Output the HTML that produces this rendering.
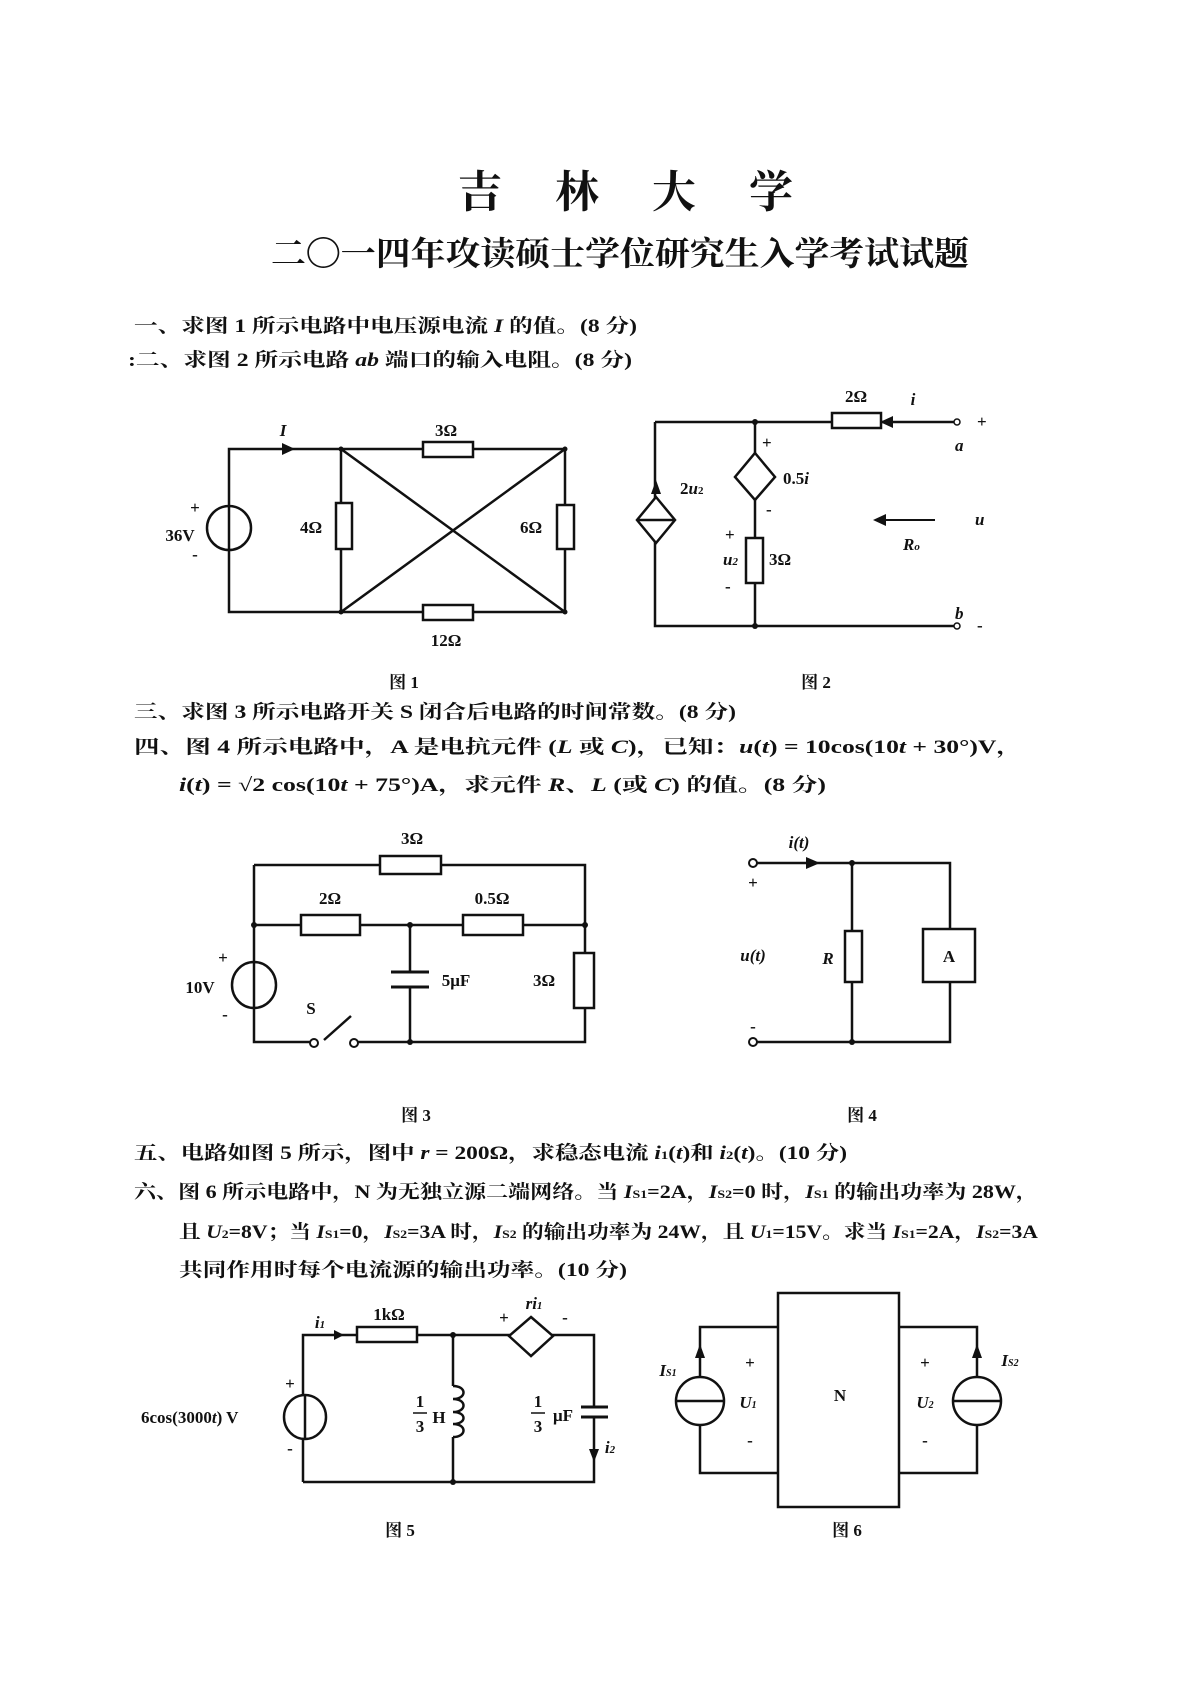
<!DOCTYPE html>
<html><head><meta charset="utf-8"><style>
html,body{margin:0;padding:0;background:#fff;}
svg{display:block;}
text{font-family:"Liberation Serif","Noto Serif CJK SC",serif;font-weight:bold;fill:#111;}
.t{font-size:19px;}
.l{font-size:17px;}
.it{font-style:italic;}
</style></head><body>
<svg width="1190" height="1683" viewBox="0 0 1190 1683" xmlns="http://www.w3.org/2000/svg">
<g stroke="#111" stroke-width="2.5" fill="none">
<!-- Fig1 -->
<path d="M229,449 H565 V612 H229 Z M341,449 V612 M341,449 L565,612 M565,449 L341,612"/>
<rect x="423" y="442" width="50" height="15" fill="#fff"/>
<rect x="423" y="605" width="50" height="15" fill="#fff"/>
<rect x="336" y="503" width="16" height="46" fill="#fff"/>
<rect x="557" y="505" width="17" height="44" fill="#fff"/>
<ellipse cx="229" cy="528" rx="22" ry="22" fill="#fff"/>
<line x1="229" y1="506" x2="229" y2="550"/>
<!-- Fig2 -->
<path d="M655,422 H955 M755,422 V626 M655,422 V626 H955"/>
<rect x="832" y="413" width="49" height="15" fill="#fff"/>
<polygon points="656,497 675,520 656,543 637,520" fill="#fff"/>
<line x1="637" y1="520" x2="675" y2="520"/>
<polygon points="755,453 775,477 755,500 735,477" fill="#fff"/>
<rect x="746" y="538" width="17" height="45" fill="#fff"/>
<circle cx="957" cy="422" r="3" fill="#fff" stroke-width="1.5"/>
<circle cx="957" cy="626" r="3" fill="#fff" stroke-width="1.5"/>
<line x1="935" y1="520" x2="878" y2="520" stroke-width="2"/>
<!-- Fig3 -->
<path d="M254,865 H585 V1042 H356 M311,1042 H254 V865 M254,925 H585 M410,925 V972 M410,987 V1042"/>
<rect x="380" y="856" width="61" height="18" fill="#fff"/>
<rect x="301" y="915" width="59" height="20" fill="#fff"/>
<rect x="463" y="915" width="60" height="20" fill="#fff"/>
<rect x="574" y="953" width="20" height="55" fill="#fff"/>
<line x1="391" y1="972" x2="429" y2="972" stroke-width="3"/>
<line x1="391" y1="987" x2="429" y2="987" stroke-width="3"/>
<ellipse cx="254" cy="985" rx="22" ry="23" fill="#fff"/>
<line x1="254" y1="962" x2="254" y2="1008"/>
<circle cx="314" cy="1043" r="4" fill="#fff" stroke-width="2"/>
<circle cx="354" cy="1043" r="4" fill="#fff" stroke-width="2"/>
<line x1="324" y1="1040" x2="351" y2="1016"/>
<!-- Fig4 -->
<path d="M756,863 H950 V929 M950,982 V1042 H756 M852,863 V931 M852,982 V1042"/>
<rect x="845" y="931" width="17" height="51" fill="#fff"/>
<rect x="923" y="929" width="52" height="53" fill="#fff"/>
<circle cx="753" cy="863" r="4" fill="#fff" stroke-width="2"/>
<circle cx="753" cy="1042" r="4" fill="#fff" stroke-width="2"/>
<!-- Fig5 -->
<path d="M303,1482 V1335 H594 V1407 M594,1417 V1482 H303 M453,1335 V1386 M453,1437 V1482"/>
<rect x="357" y="1327" width="60" height="15" fill="#fff"/>
<polygon points="531,1317 553,1336 531,1356 509,1336" fill="#fff"/>
<ellipse cx="305" cy="1417" rx="21" ry="22" fill="#fff"/>
<line x1="305" y1="1395" x2="305" y2="1439"/>
<path d="M453,1386 c14,0 14,13 0,13 c14,0 14,13 0,13 c14,0 14,12 0,12 c14,0 14,13 0,13" fill="#fff"/>
<line x1="581" y1="1407" x2="608" y2="1407" stroke-width="3"/>
<line x1="581" y1="1417" x2="608" y2="1417" stroke-width="3"/>
<!-- Fig6 -->
<rect x="778" y="1293" width="121" height="214" fill="#fff"/>
<path d="M778,1327 H700 V1473 H778 M899,1327 H977 V1473 H899"/>
<circle cx="700" cy="1401" r="24" fill="#fff"/>
<line x1="676" y1="1401" x2="724" y2="1401"/>
<circle cx="977" cy="1401" r="24" fill="#fff"/>
<line x1="953" y1="1401" x2="1001" y2="1401"/>
</g>
<g fill="#111">
<polygon points="295,449 282,443 282,455"/>
<polygon points="880,422 893,416 893,428"/>
<polygon points="656,480 651,494 661,494"/>
<polygon points="873,520 886,514 886,526"/>
<polygon points="820,863 806,857 806,869"/>
<polygon points="344,1335 334,1330 334,1340"/>
<circle cx="453" cy="1335" r="3"/><circle cx="453" cy="1482" r="3"/>
<polygon points="594,1462 589,1449 599,1449"/>
<polygon points="700,1344 695,1358 705,1358"/>
<polygon points="977,1344 972,1358 982,1358"/>
<circle cx="410" cy="925" r="3"/><circle cx="410" cy="1042" r="3"/><circle cx="254" cy="925" r="3"/><circle cx="585" cy="925" r="3"/>
<circle cx="852" cy="863" r="3"/><circle cx="852" cy="1042" r="3"/>
<circle cx="755" cy="422" r="3"/><circle cx="755" cy="626" r="3"/>
<circle cx="341" cy="449" r="2.5"/><circle cx="565" cy="449" r="2.5"/><circle cx="341" cy="612" r="2.5"/><circle cx="565" cy="612" r="2.5"/>
</g>

<!-- Titles -->
<text x="458" y="207" font-size="44" textLength="335" lengthAdjust="spacing">吉林大学</text>
<text x="271" y="265" font-size="33" textLength="698" lengthAdjust="spacingAndGlyphs">二〇一四年攻读硕士学位研究生入学考试试题</text>

<text class="t" x="134" y="332" textLength="503" lengthAdjust="spacingAndGlyphs">一、求图 1 所示电路中电压源电流 <tspan class="it">I</tspan> 的值。(8 分)</text>
<text class="t" x="128" y="366" textLength="504" lengthAdjust="spacingAndGlyphs">:二、求图 2 所示电路 <tspan class="it">ab</tspan> 端口的输入电阻。(8 分)</text>

<!-- fig1 labels -->
<text class="l" x="446" y="436" text-anchor="middle">3Ω</text>
<text class="l it" x="283" y="436" text-anchor="middle">I</text>
<text class="l" x="195" y="513" text-anchor="middle">+</text>
<text class="l" x="180" y="541" text-anchor="middle">36V</text>
<text class="l" x="195" y="560" text-anchor="middle">-</text>
<text class="l" x="311" y="533" text-anchor="middle">4Ω</text>
<text class="l" x="531" y="533" text-anchor="middle">6Ω</text>
<text class="l" x="446" y="646" text-anchor="middle">12Ω</text>
<text class="l" x="404" y="688" text-anchor="middle">图 1</text>
<!-- fig2 labels -->
<text class="l" x="856" y="402" text-anchor="middle">2Ω</text>
<text class="l it" x="913" y="405" text-anchor="middle">i</text>
<text class="l" x="977" y="427">+</text>
<text class="l it" x="955" y="451">a</text>
<text class="l it" x="975" y="525">u</text>
<text class="l it" x="955" y="619">b</text>
<text class="l" x="977" y="631">-</text>
<text class="l" x="680" y="494">2<tspan class="it">u</tspan><tspan font-size="11">2</tspan></text>
<text class="l" x="762" y="448">+</text>
<text class="l" x="766" y="515">-</text>
<text class="l" x="783" y="484">0.5<tspan class="it">i</tspan></text>
<text class="l" x="725" y="540">+</text>
<text class="l it" x="723" y="565">u<tspan font-size="11">2</tspan></text>
<text class="l" x="725" y="592">-</text>
<text class="l" x="769" y="565">3Ω</text>
<text class="l it" x="903" y="550">R<tspan font-size="11">o</tspan></text>
<text class="l" x="816" y="688" text-anchor="middle">图 2</text>

<text class="t" x="134" y="718" textLength="602" lengthAdjust="spacingAndGlyphs">三、求图 3 所示电路开关 S 闭合后电路的时间常数。(8 分)</text>
<text class="t" x="134" y="753" textLength="888" lengthAdjust="spacingAndGlyphs">四、图 4 所示电路中，A 是电抗元件 (<tspan class="it">L</tspan> 或 <tspan class="it">C</tspan>)，已知：<tspan class="it">u</tspan>(<tspan class="it">t</tspan>) = 10cos(10<tspan class="it">t</tspan> + 30°)V，</text>
<text class="t" x="179" y="791" textLength="647" lengthAdjust="spacingAndGlyphs"><tspan class="it">i</tspan>(<tspan class="it">t</tspan>) = √2 cos(10<tspan class="it">t</tspan> + 75°)A，求元件 <tspan class="it">R</tspan>、<tspan class="it">L</tspan> (或 <tspan class="it">C</tspan>) 的值。(8 分)</text>

<!-- fig3 labels -->
<text class="l" x="412" y="844" text-anchor="middle">3Ω</text>
<text class="l" x="330" y="904" text-anchor="middle">2Ω</text>
<text class="l" x="492" y="904" text-anchor="middle">0.5Ω</text>
<text class="l" x="223" y="963" text-anchor="middle">+</text>
<text class="l" x="200" y="993" text-anchor="middle">10V</text>
<text class="l" x="225" y="1020" text-anchor="middle">-</text>
<text class="l" x="456" y="986" text-anchor="middle">5μF</text>
<text class="l" x="544" y="986" text-anchor="middle">3Ω</text>
<text class="l" x="311" y="1014" text-anchor="middle">S</text>
<!-- fig4 labels -->
<text class="l it" x="799" y="848" text-anchor="middle">i(t)</text>
<text class="l" x="753" y="888" text-anchor="middle">+</text>
<text class="l it" x="753" y="961" text-anchor="middle">u(t)</text>
<text class="l" x="753" y="1032" text-anchor="middle">-</text>
<text class="l it" x="828" y="964" text-anchor="middle">R</text>
<text class="l" x="949" y="962" text-anchor="middle">A</text>
<text class="l" x="416" y="1121" text-anchor="middle">图 3</text>
<text class="l" x="862" y="1121" text-anchor="middle">图 4</text>

<text class="t" x="134" y="1159" textLength="713" lengthAdjust="spacingAndGlyphs">五、电路如图 5 所示，图中 <tspan class="it">r</tspan> = 200Ω，求稳态电流 <tspan class="it">i</tspan><tspan font-size="12">1</tspan>(<tspan class="it">t</tspan>)和 <tspan class="it">i</tspan><tspan font-size="12">2</tspan>(<tspan class="it">t</tspan>)。(10 分)</text>
<text class="t" x="134" y="1198" textLength="904" lengthAdjust="spacingAndGlyphs">六、图 6 所示电路中，N 为无独立源二端网络。当 <tspan class="it">I</tspan><tspan font-size="12">S1</tspan>=2A，<tspan class="it">I</tspan><tspan font-size="12">S2</tspan>=0 时，<tspan class="it">I</tspan><tspan font-size="12">S1</tspan> 的输出功率为 28W，</text>
<text class="t" x="179" y="1238" textLength="859" lengthAdjust="spacingAndGlyphs">且 <tspan class="it">U</tspan><tspan font-size="12">2</tspan>=8V；当 <tspan class="it">I</tspan><tspan font-size="12">S1</tspan>=0，<tspan class="it">I</tspan><tspan font-size="12">S2</tspan>=3A 时，<tspan class="it">I</tspan><tspan font-size="12">S2</tspan> 的输出功率为 24W，且 <tspan class="it">U</tspan><tspan font-size="12">1</tspan>=15V。求当 <tspan class="it">I</tspan><tspan font-size="12">S1</tspan>=2A，<tspan class="it">I</tspan><tspan font-size="12">S2</tspan>=3A</text>
<text class="t" x="179" y="1276" textLength="448" lengthAdjust="spacingAndGlyphs">共同作用时每个电流源的输出功率。(10 分)</text>

<!-- fig5 labels -->
<text class="l" x="389" y="1320" text-anchor="middle">1kΩ</text>
<text class="l it" x="320" y="1328" text-anchor="middle">i<tspan font-size="11">1</tspan></text>
<text class="l" x="504" y="1323" text-anchor="middle">+</text>
<text class="l it" x="534" y="1309" text-anchor="middle">ri<tspan font-size="11">1</tspan></text>
<text class="l" x="565" y="1323" text-anchor="middle">-</text>
<text class="l" x="290" y="1389" text-anchor="middle">+</text>
<text class="l" x="290" y="1454" text-anchor="middle">-</text>
<text class="l" x="141" y="1423" font-weight="normal">6cos(3000<tspan class="it">t</tspan>) V</text>
<text class="l" x="420" y="1407" text-anchor="middle">1</text>
<line x1="413" y1="1413" x2="427" y2="1413" stroke="#111" stroke-width="1.5"/>
<text class="l" x="420" y="1432" text-anchor="middle">3</text>
<text class="l" x="439" y="1423" text-anchor="middle">H</text>
<text class="l" x="538" y="1407" text-anchor="middle">1</text>
<line x1="531" y1="1413" x2="545" y2="1413" stroke="#111" stroke-width="1.5"/>
<text class="l" x="538" y="1432" text-anchor="middle">3</text>
<text class="l" x="563" y="1421" text-anchor="middle">μF</text>
<text class="l it" x="610" y="1453" text-anchor="middle">i<tspan font-size="11">2</tspan></text>
<text class="l" x="400" y="1536" text-anchor="middle">图 5</text>
<!-- fig6 labels -->
<text class="l it" x="668" y="1376" text-anchor="middle">I<tspan font-size="10">S1</tspan></text>
<text class="l" x="750" y="1368" text-anchor="middle">+</text>
<text class="l it" x="748" y="1408" text-anchor="middle">U<tspan font-size="10">1</tspan></text>
<text class="l" x="750" y="1446" text-anchor="middle">-</text>
<text class="l" x="840" y="1401" text-anchor="middle">N</text>
<text class="l" x="925" y="1368" text-anchor="middle">+</text>
<text class="l it" x="925" y="1408" text-anchor="middle">U<tspan font-size="10">2</tspan></text>
<text class="l" x="925" y="1446" text-anchor="middle">-</text>
<text class="l it" x="1010" y="1366" text-anchor="middle">I<tspan font-size="10">S2</tspan></text>
<text class="l" x="847" y="1536" text-anchor="middle">图 6</text>
</svg>
</body></html>
